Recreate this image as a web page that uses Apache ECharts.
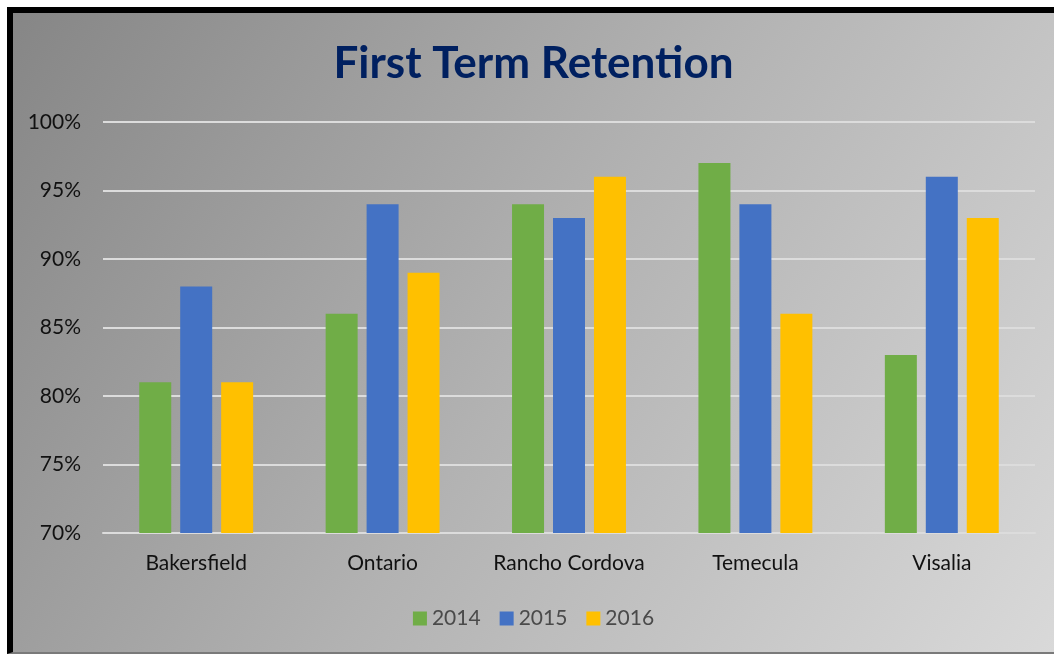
<!DOCTYPE html>
<html>
<head>
<meta charset="utf-8">
<script src="https://cdn.jsdelivr.net/npm/echarts@6/dist/echarts.min.js"></script>
<style>
    html, body { margin: 0; padding: 0; background: #fff; }
    #wrap {
        position: absolute; left: 7px; top: 7px;
        width: 1041px; height: 639px;
        border-left: 6px solid #000; border-top: 6px solid #000;
        border-bottom: 2px solid #7a7a7a;
    }
    #chart { width: 1041px; height: 639px; }
</style>
</head>
<body>
<div id="wrap"><div id="chart"></div></div>
<script>
// 数据
var categories = ['Bakersfield', 'Ontario', 'Rancho Cordova', 'Temecula', 'Visalia'];
var years = ['2014', '2015', '2016'];
var data2014 = [81, 86, 94, 97, 83];
var data2015 = [88, 94, 93, 94, 96];
var data2016 = [81, 89, 96, 86, 93];
var colors = ['#70ad47', '#4472c4', '#ffc000'];

var myChart = echarts.init(document.getElementById('chart'));
var fontFamily = 'Lato, "Open Sans", sans-serif';

var seriesData = [data2014, data2015, data2016];
var series = years.map(function(y, i) {
    return {
        name: y,
        type: 'bar',
        data: seriesData[i],
        barWidth: 32,
        barGap: '28%',
        itemStyle: { color: colors[i] }
    };
});

var option = {
    backgroundColor: {
        type: 'linear', x: 0, y: 0, x2: 1, y2: 1,
        colorStops: [
            { offset: 0, color: '#868686' },
            { offset: 0.5, color: '#b2b2b2' },
            { offset: 1, color: '#d9d9d9' }
        ]
    },
    textStyle: { fontFamily: fontFamily },
    title: {
        text: 'First Term Retention',
        left: 'center',
        top: 24,
        textStyle: { color: '#002060', fontSize: 44, fontWeight: 'bold', fontFamily: fontFamily }
    },
    legend: {
        data: years,
        bottom: 18,
        left: 'center',
        itemWidth: 14,
        itemHeight: 14,
        itemGap: 19,
        icon: 'rect',
        textStyle: { color: '#4a4a4a', fontSize: 21, fontFamily: fontFamily }
    },
    grid: {
        left: 90,
        right: 19,
        top: 109,
        bottom: 119
    },
    xAxis: {
        type: 'category',
        data: categories,
        axisTick: { show: false },
        axisLine: { lineStyle: { color: '#dcdcdc', width: 2 } },
        axisLabel: { color: '#111', fontSize: 21, margin: 20, interval: 0 }
    },
    yAxis: {
        type: 'value',
        min: 70,
        max: 100,
        interval: 5,
        axisLine: { show: false },
        axisTick: { show: false },
        splitLine: { lineStyle: { color: '#dcdcdc', width: 2 } },
        axisLabel: {
            color: '#111', fontSize: 21, margin: 22,
            formatter: function(v) { return v + '%'; }
        }
    },
    series: series
};

myChart.setOption(option);
</script>
</body>
</html>
